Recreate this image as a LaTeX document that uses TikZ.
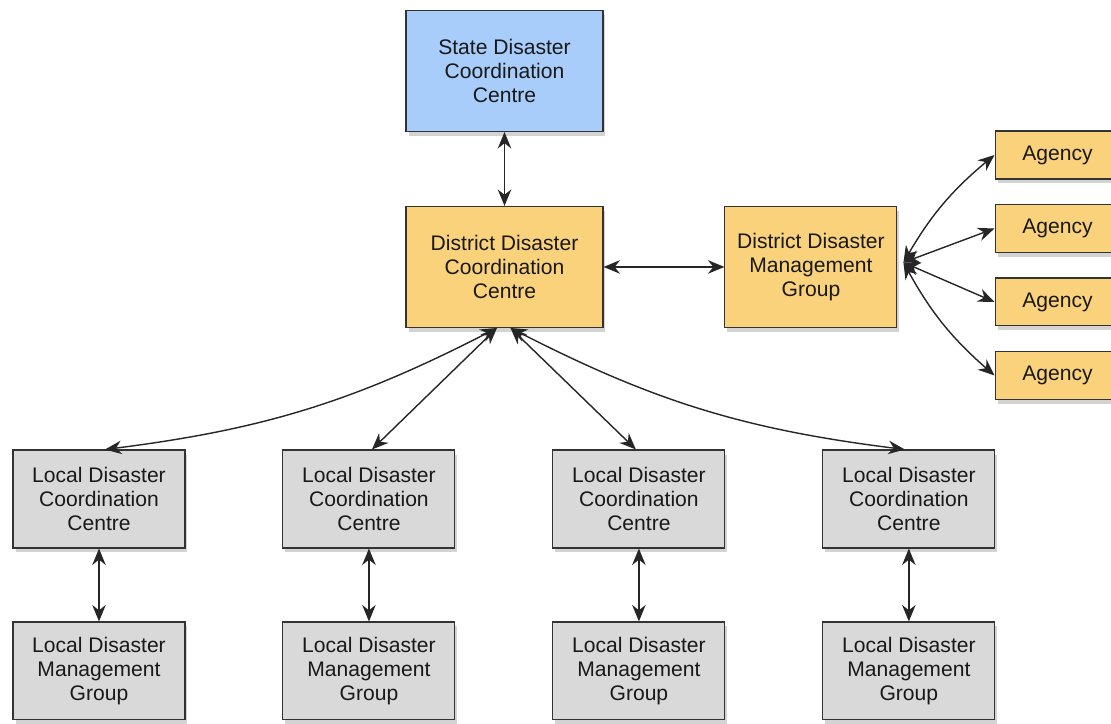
\documentclass[tikz,border=0pt]{standalone}
\usepackage{fontspec}
\setmainfont{Liberation Sans}
\usetikzlibrary{arrows.meta, positioning, shadows}
\definecolor{stateBlue}{HTML}{A8CDFA}
\definecolor{districtOrange}{HTML}{FAD27C}
\definecolor{localGrey}{HTML}{D9D9D9}
\tikzstyle{dBox} = [rectangle, draw=black!80, semithick, align=center, text=black!90, font=\fontsize{12}{13.6}\selectfont, drop shadow={shadow xshift=0.05cm, shadow yshift=-0.09cm, opacity=0.35}]
\tikzstyle{dState} = [dBox, minimum width=3.94cm, minimum height=2.42cm, fill=stateBlue]
\tikzstyle{dDistrict} = [dBox, minimum width=3.94cm, minimum height=2.42cm, fill=districtOrange]
\tikzstyle{dAgency} = [dBox, minimum width=2.5cm, minimum height=0.96cm, fill=districtOrange]
\tikzstyle{dLocal} = [dBox, minimum width=3.44cm, minimum height=1.96cm, fill=localGrey]
\tikzstyle{dArrow} = [line width=0.8pt, black!85, {Stealth[length=3.3mm,width=2.7mm]}-{Stealth[length=3.3mm,width=2.7mm]}]

\begin{document}
\begin{tikzpicture}[node distance=3.92cm, x=0.02cm, y=-0.02cm]
    \useasboundingbox (0,0) rectangle (1111,723);

    \node (state) [dState] at (504.5,71) {State Disaster\\Coordination\\Centre};
    \node (districtCentre) [dDistrict, below of=state] {District Disaster\\Coordination\\Centre};
    \node (districtGroup) [dDistrict, minimum width=3.44cm, right of=districtCentre, xshift=2.21cm] {District Disaster\\Management\\Group};

    \node (agencyA) [dAgency] at (1057.5,155) {Agency};
    \node (agencyB) [dAgency, below of=agencyA, node distance=1.47cm] {Agency};
    \node (agencyC) [dAgency, below of=agencyB, node distance=1.47cm] {Agency};
    \node (agencyD) [dAgency, below of=agencyC, node distance=1.47cm] {Agency};

    \node (localCentreA) [dLocal] at (99,499) {Local Disaster\\Coordination\\Centre};
    \node (localCentreB) [dLocal, right of=localCentreA, node distance=5.4cm] {Local Disaster\\Coordination\\Centre};
    \node (localCentreC) [dLocal, right of=localCentreB, node distance=5.4cm] {Local Disaster\\Coordination\\Centre};
    \node (localCentreD) [dLocal, right of=localCentreC, node distance=5.4cm] {Local Disaster\\Coordination\\Centre};

    \node (localGroupA) [dLocal, below of=localCentreA, node distance=3.44cm] {Local Disaster\\Management\\Group};
    \node (localGroupB) [dLocal, below of=localCentreB, node distance=3.44cm] {Local Disaster\\Management\\Group};
    \node (localGroupC) [dLocal, below of=localCentreC, node distance=3.44cm] {Local Disaster\\Management\\Group};
    \node (localGroupD) [dLocal, below of=localCentreD, node distance=3.44cm] {Local Disaster\\Management\\Group};

    \coordinate (fanLeft) at ([xshift=-0.15cm]districtCentre.south);
    \coordinate (fanRight) at ([xshift=0.12cm]districtCentre.south);
    \coordinate (groupHub) at ([xshift=0.12cm, yshift=0.09cm]districtGroup.east);

    \draw [dArrow] (state) -- (districtCentre);
    \draw [dArrow] (districtCentre) -- (districtGroup);

    \draw [dArrow] (fanLeft) to[bend left=10] ([xshift=0.12cm]localCentreA.north);
    \draw [dArrow] (fanLeft) -- ([xshift=0.06cm]localCentreB.north);
    \draw [dArrow] (fanRight) -- ([xshift=-0.06cm]localCentreC.north);
    \draw [dArrow] (fanRight) to[bend right=10] ([xshift=-0.08cm]localCentreD.north);

    \draw [dArrow] (groupHub) to[bend left=10] (agencyA.west);
    \draw [dArrow] (groupHub) -- (agencyB.west);
    \draw [dArrow] (groupHub) -- (agencyC.west);
    \draw [dArrow] (groupHub) to[bend right=10] (agencyD.west);

    \draw [dArrow] (localCentreA) -- (localGroupA);
    \draw [dArrow] (localCentreB) -- (localGroupB);
    \draw [dArrow] (localCentreC) -- (localGroupC);
    \draw [dArrow] (localCentreD) -- (localGroupD);
\end{tikzpicture}
\end{document}
